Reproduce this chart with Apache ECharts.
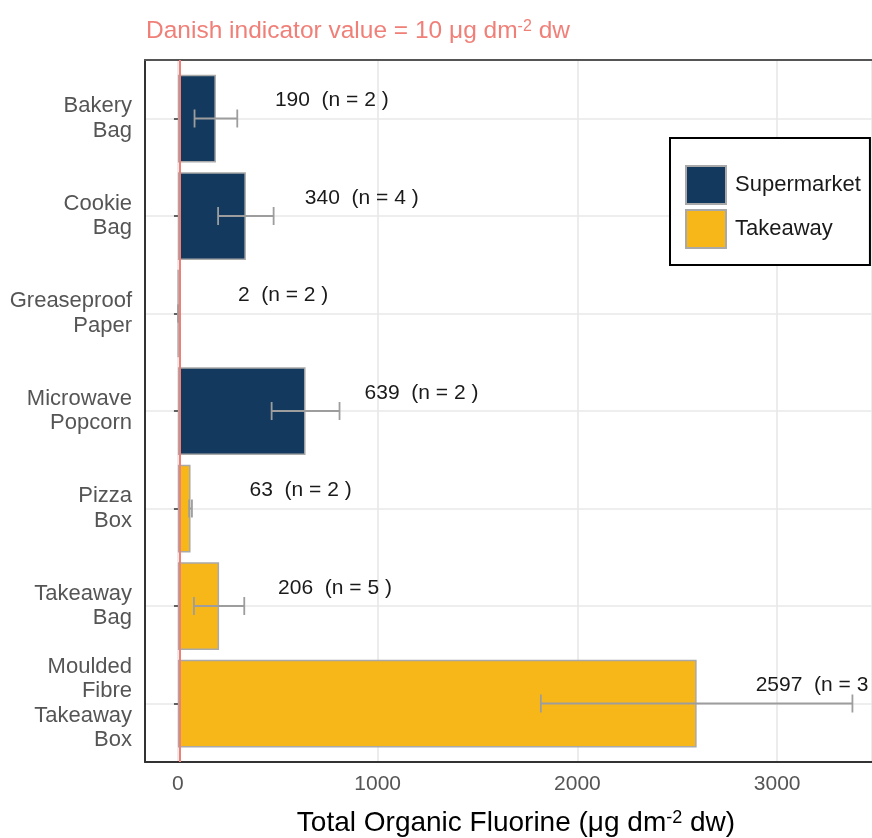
<!DOCTYPE html>
<html>
<head>
<meta charset="utf-8">
<script src="https://cdn.jsdelivr.net/npm/echarts@6/dist/echarts.min.js"></script>
<style>
  html, body { margin: 0; padding: 0; background: #fff; }
  #chart { width: 872px; height: 838px; }
</style>
</head>
<body>
<div id="chart"></div>
<script>
// Packaging categories (top to bottom)
const categories = [
  'Bakery\nBag', 'Cookie\nBag', 'Greaseproof\nPaper', 'Microwave\nPopcorn',
  'Pizza\nBox', 'Takeaway\nBag', 'Moulded\nFibre\nTakeaway\nBox'
];
// Mean total organic fluorine, µg dm-2 dw
const supermarket = [190, 340, 2, 639, '-', '-', '-'];
const takeaway = ['-', '-', '-', '-', 63, 206, 2597];
const sampleCounts = [2, 4, 2, 2, 2, 5, 3];
// Error bar extents
const errLow = [83, 201, 1, 469, 56, 80, 1817];
const errHigh = [297, 479, 3, 809, 70, 332, 3377];
const indicatorValue = 10;
const xTicks = [0, 1000, 2000, 3000];

const FONT = 'Liberation Sans, Arial, Helvetica, sans-serif';
const X_MIN = -165, X_MAX = 3475;
const NAVY = '#133a5e', GOLD = '#f8b718';
const SALMON = '#f07f78';

const chart = echarts.init(document.getElementById('chart'));

const valueLabel = (p) => p.value + '  (n = ' + sampleCounts[p.dataIndex] + ' )';

const barLabel = {
  show: true,
  position: 'right',
  distance: 59,
  offset: [0, -18],
  fontFamily: FONT,
  fontSize: 21,
  color: '#1a1a1a',
  formatter: valueLabel
};

const errorBars = categories.map((c, i) => [i, errLow[i], errHigh[i]]);

chart.setOption({
  animation: false,
  textStyle: { fontFamily: FONT },
  title: {
    text: 'Danish indicator value = 10 μg dm{sup|-2} dw',
    left: 146,
    top: 19,
    padding: 0,
    textStyle: {
      fontFamily: FONT,
      fontSize: 24.5,
      fontWeight: 'normal',
      color: SALMON,
      rich: {
        sup: { fontSize: 16, color: SALMON, verticalAlign: 'top', lineHeight: 14, fontFamily: FONT }
      }
    }
  },
  legend: {
    data: ['Supermarket', 'Takeaway'],
    orient: 'vertical',
    left: 670,
    top: 138,
    padding: [27, 9, 16, 15],
    itemWidth: 40,
    itemHeight: 38,
    itemGap: 4,
    borderColor: '#000',
    borderWidth: 2,
    backgroundColor: '#fff',
    icon: 'rect',
    textStyle: { fontFamily: FONT, fontSize: 22, color: '#1a1a1a', padding: [0, 0, 0, 4] }
  },
  grid: [
    // panel frame: vertical grid lines, axes and reference line
    { left: 145, right: 0, top: 60, bottom: 76, containLabel: false, outerBoundsMode: 'none' },
    // bars, one band per category
    { left: 145, right: 0, top: 69.75, bottom: 85.75, containLabel: false, outerBoundsMode: 'none' }
  ],
  xAxis: [
    {
      gridIndex: 0, type: 'value', min: X_MIN, max: X_MAX, splitNumber: 4,
      name: 'Total Organic Fluorine (μg dm{sup|-2} dw)',
      nameLocation: 'middle', nameGap: 47,
      nameTextStyle: {
        fontFamily: FONT, fontSize: 28, color: '#000', padding: [0, 0, 0, 15],
        rich: { sup: { fontSize: 18, color: '#000', verticalAlign: 'top', lineHeight: 15, fontFamily: FONT } }
      },
      axisLine: { show: true, onZero: false, lineStyle: { color: '#333', width: 2 } },
      axisTick: { show: false },
      axisLabel: {
        fontFamily: FONT, fontSize: 21, color: '#555', margin: 12,
        showMinLabel: false, showMaxLabel: false,
        formatter: (v) => (xTicks.indexOf(v) >= 0 ? String(v) : '')
      },
      splitLine: { show: true, lineStyle: { color: '#e6e6e6', width: 1.5 } }
    },
    {
      gridIndex: 0, type: 'value', min: X_MIN, max: X_MAX, position: 'top',
      axisLine: { show: true, onZero: false, lineStyle: { color: '#555', width: 2 } },
      axisTick: { show: false }, axisLabel: { show: false }, splitLine: { show: false }
    },
    {
      gridIndex: 1, type: 'value', min: X_MIN, max: X_MAX, show: false,
      splitLine: { show: false }
    }
  ],
  yAxis: [
    {
      gridIndex: 0, type: 'value', min: 0, max: 1,
      axisLine: { show: true, onZero: false, lineStyle: { color: '#333', width: 2 } },
      axisTick: { show: false }, axisLabel: { show: false }, splitLine: { show: false }
    },
    {
      gridIndex: 1, type: 'category', data: categories, inverse: true,
      axisLine: { show: false },
      axisTick: { show: true, alignWithLabel: true, length: 4, lineStyle: { color: '#333', width: 1.5 } },
      axisLabel: {
        fontFamily: FONT, fontSize: 22, color: '#555', lineHeight: 24.5, margin: 13, align: 'right',
        padding: [5, 0, 0, 0]
      },
      splitLine: { show: false }
    }
  ],
  series: [
    {
      // horizontal grid lines at each category
      type: 'scatter', xAxisIndex: 2, yAxisIndex: 1, data: [], z: 0, silent: true,
      markLine: {
        silent: true, symbol: 'none', label: { show: false }, z: 0,
        lineStyle: { color: '#e8e8e8', width: 1.5, type: 'solid' },
        data: categories.map((c) => ({ yAxis: c }))
      }
    },
    {
      name: 'Supermarket', type: 'bar', xAxisIndex: 2, yAxisIndex: 1,
      stack: 'total', barWidth: '90%', data: supermarket, z: 2,
      itemStyle: { color: NAVY, borderColor: '#a9a9a9', borderWidth: 1.5 },
      label: barLabel
    },
    {
      name: 'Takeaway', type: 'bar', xAxisIndex: 2, yAxisIndex: 1,
      stack: 'total', barWidth: '90%', data: takeaway, z: 2,
      itemStyle: { color: GOLD, borderColor: '#a9a9a9', borderWidth: 1.5 },
      label: barLabel
    },
    {
      // error bars
      type: 'custom', xAxisIndex: 2, yAxisIndex: 1, z: 3, silent: true,
      data: errorBars,
      encode: { y: 0, x: [1, 2] },
      renderItem: (params, api) => {
        const lo = api.coord([api.value(1), api.value(0)]);
        const hi = api.coord([api.value(2), api.value(0)]);
        const cap = 9;
        const style = { stroke: '#9d9d9d', lineWidth: 1.8, fill: null };
        return {
          type: 'group',
          children: [
            { type: 'line', shape: { x1: lo[0], y1: lo[1], x2: hi[0], y2: hi[1] }, style },
            { type: 'line', shape: { x1: lo[0], y1: lo[1] - cap, x2: lo[0], y2: lo[1] + cap }, style },
            { type: 'line', shape: { x1: hi[0], y1: hi[1] - cap, x2: hi[0], y2: hi[1] + cap }, style }
          ]
        };
      }
    },
    {
      // Danish indicator value reference line
      type: 'scatter', xAxisIndex: 0, yAxisIndex: 0, data: [], z: 10, silent: true,
      markLine: {
        silent: true, symbol: 'none', label: { show: false }, z: 10,
        lineStyle: { color: SALMON, width: 2, type: 'solid' },
        data: [{ xAxis: indicatorValue }]
      }
    }
  ]
});
</script>
</body>
</html>
